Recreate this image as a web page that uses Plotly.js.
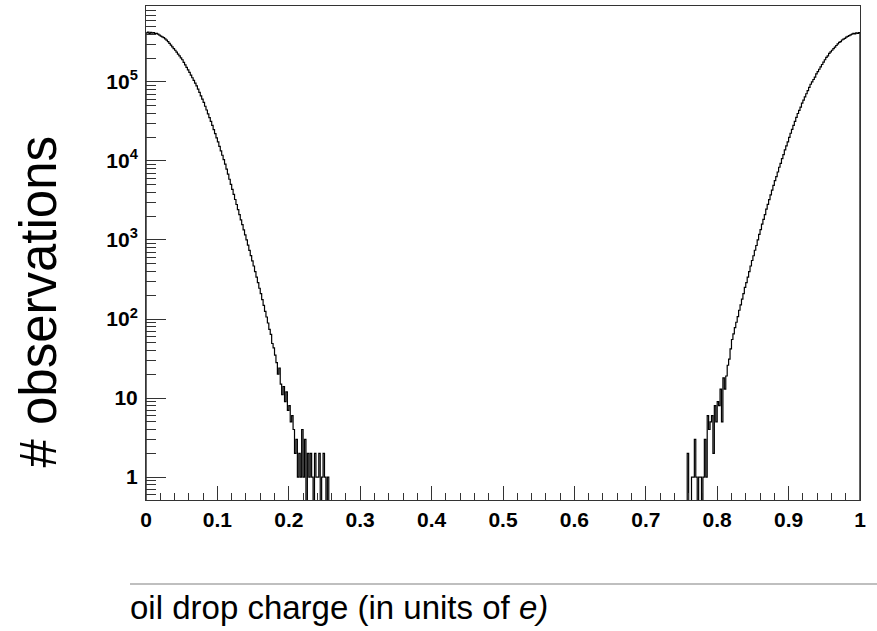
<!DOCTYPE html>
<html>
<head>
<meta charset="utf-8">
<script src="https://cdn.plot.ly/plotly-3.0.1.min.js"></script>
<style>html,body{margin:0;padding:0;background:#fff;}</style>
</head>
<body>
<div id="chart" style="width:877px;height:631px;"></div>
<script>
// ---- data (histogram of oil drop charge, bin width 0.002) ----
const binWidth = 0.002;
const leftStart = 0.0;
const leftCounts = [
  418000,426000,411000,423000,414000,419000,408000,411000,401000,391000,
  380000,371000,362000,350000,338000,323600,307600,292400,278000,264200,
  251200,237700,224900,212800,201400,190500,177000,164400,152800,141900,
  131800,121900,112700,104200,96400,89100,80900,73500,66700,60500,
  55000,49200,44100,39400,35300,31600,28100,24900,22100,19600,
  17400,15300,13400,11800,10400,9120,7870,6790,5860,5060,
  4370,3770,3250,2810,2420,2090,1800,1560,1340,1160,
  1000,859,738,634,545,468,398,339,288,245,
  209,176,149,125,106,89,74,64,49,43,
  35,28,20,24,15,11,14,9,12,7,
  8,5,6,4,2,3,1,2,1,4,
  1,3,0,2,1,2,1,0,2,1,
  1,2,0,1,2,1,0,1
];
const rightStart = 0.756;
const rightCounts = [
  0,2,0,0,1,1,3,1,0,1,
  1,0,1,3,1,6,4,5,6,2,
  8,5,9,8,13,5,18,13,19,26,
  31,42,55,65,78,91,107,129,151,178,
  209,251,288,339,398,468,550,631,741,851,
  1000,1175,1349,1585,1820,2089,2455,2818,3236,3715,
  4266,4898,5623,6310,7244,8318,9333,10700,12000,13800,
  15500,17400,19900,22400,25100,28200,31600,35500,39800,43700,
  47900,53700,58900,64600,70800,77600,85100,93300,100000,107200,
  114800,125900,134900,144500,154900,166000,177800,190500,204200,213800,
  229100,239900,251200,263000,275400,288400,302000,316200,323600,338800,
  346700,354800,367300,375800,384600,393600,402700,412000,405000,418000,
  410000,421000
];
const xTickVals = [0,0.1,0.2,0.3,0.4,0.5,0.6,0.7,0.8,0.9,1];
const xTickText = ['0','0.1','0.2','0.3','0.4','0.5','0.6','0.7','0.8','0.9','1'];
const yTickVals = [1,10,100,1000,10000,100000];
const yTickText = ['1','10','10<sup>2</sup>','10<sup>3</sup>','10<sup>4</sup>','10<sup>5</sup>'];

// ---- build step outlines ----
const floorVal = 0.05; // drawn below the visible axis range for empty bins
function stepXY(start, width, counts) {
  const xs = [start], ys = [floorVal];
  counts.forEach((c, i) => { xs.push(start + i * width); ys.push(c > 0 ? c : floorVal); });
  xs.push(start + counts.length * width); ys.push(floorVal);
  return {xs, ys};
}
const L = stepXY(leftStart, binWidth, leftCounts);
const R = stepXY(rightStart, binWidth, rightCounts);

const yMinor = [];
for (let e = -1; e <= 5; e++) {
  for (let m = 2; m <= 9; m++) {
    const v = m * Math.pow(10, e);
    if (v >= 0.55 && v <= 9.5e5) yMinor.push(v);
  }
}

const font = 'Liberation Sans, Arial, Helvetica, sans-serif';
const axisCol = '#333';

const traces = [
  {x: L.xs, y: L.ys, type: 'scatter', mode: 'lines', line: {shape: 'hv', color: '#000', width: 1.2}, hoverinfo: 'skip'},
  {x: R.xs, y: R.ys, type: 'scatter', mode: 'lines', line: {shape: 'hv', color: '#000', width: 1.2}, hoverinfo: 'skip'}
];

const layout = {
  width: 877, height: 631,
  margin: {l: 146, r: 17, t: 6, b: 131},
  paper_bgcolor: '#fff', plot_bgcolor: '#fff',
  showlegend: false,
  xaxis: {
    range: [0, 1], tickmode: 'array', tickvals: xTickVals, ticktext: xTickText,
    ticks: 'inside', ticklen: 14, tickwidth: 1, tickcolor: axisCol,
    showline: true, linecolor: axisCol, linewidth: 1, mirror: true,
    showgrid: false, zeroline: false,
    tickfont: {family: font, size: 21, weight: 'bold', color: '#000'},
    ticklabelstandoff: 1,
    minor: {tick0: 0, dtick: 0.02, ticks: 'inside', ticklen: 7, tickwidth: 1, tickcolor: axisCol, showgrid: false}
  },
  yaxis: {
    type: 'log', range: [-0.29, 5.96], tickmode: 'array', tickvals: yTickVals, ticktext: yTickText,
    ticks: 'inside', ticklen: 20, tickwidth: 1, tickcolor: axisCol,
    showline: true, linecolor: axisCol, linewidth: 1, mirror: true,
    showgrid: false, zeroline: false,
    tickfont: {family: font, size: 21, weight: 'bold', color: '#000'},
    ticklabelstandoff: 3,
    minor: {tickmode: 'array', tickvals: yMinor, ticks: 'inside', ticklen: 10, tickwidth: 1, tickcolor: axisCol, showgrid: false}
  },
  annotations: [
    {text: '# observations', xref: 'paper', yref: 'paper', x: -0.151, y: 0.402,
     xanchor: 'center', yanchor: 'middle', textangle: -90, showarrow: false,
     font: {family: font, size: 51, color: '#000'}},
    {text: 'oil drop charge (in units of <i>e)</i>', xref: 'paper', yref: 'paper', x: 0.270, y: -0.2186,
     xanchor: 'center', yanchor: 'middle', showarrow: false,
     font: {family: font, size: 33, color: '#000'}}
  ],
  shapes: [
    {type: 'line', xref: 'paper', yref: 'paper', x0: -0.0224, x1: 1.0238, y0: -0.170, y1: -0.170,
     line: {color: '#aaa', width: 1.5}}
  ]
};

Plotly.newPlot('chart', traces, layout, {staticPlot: true, displayModeBar: false});
</script>
</body>
</html>
